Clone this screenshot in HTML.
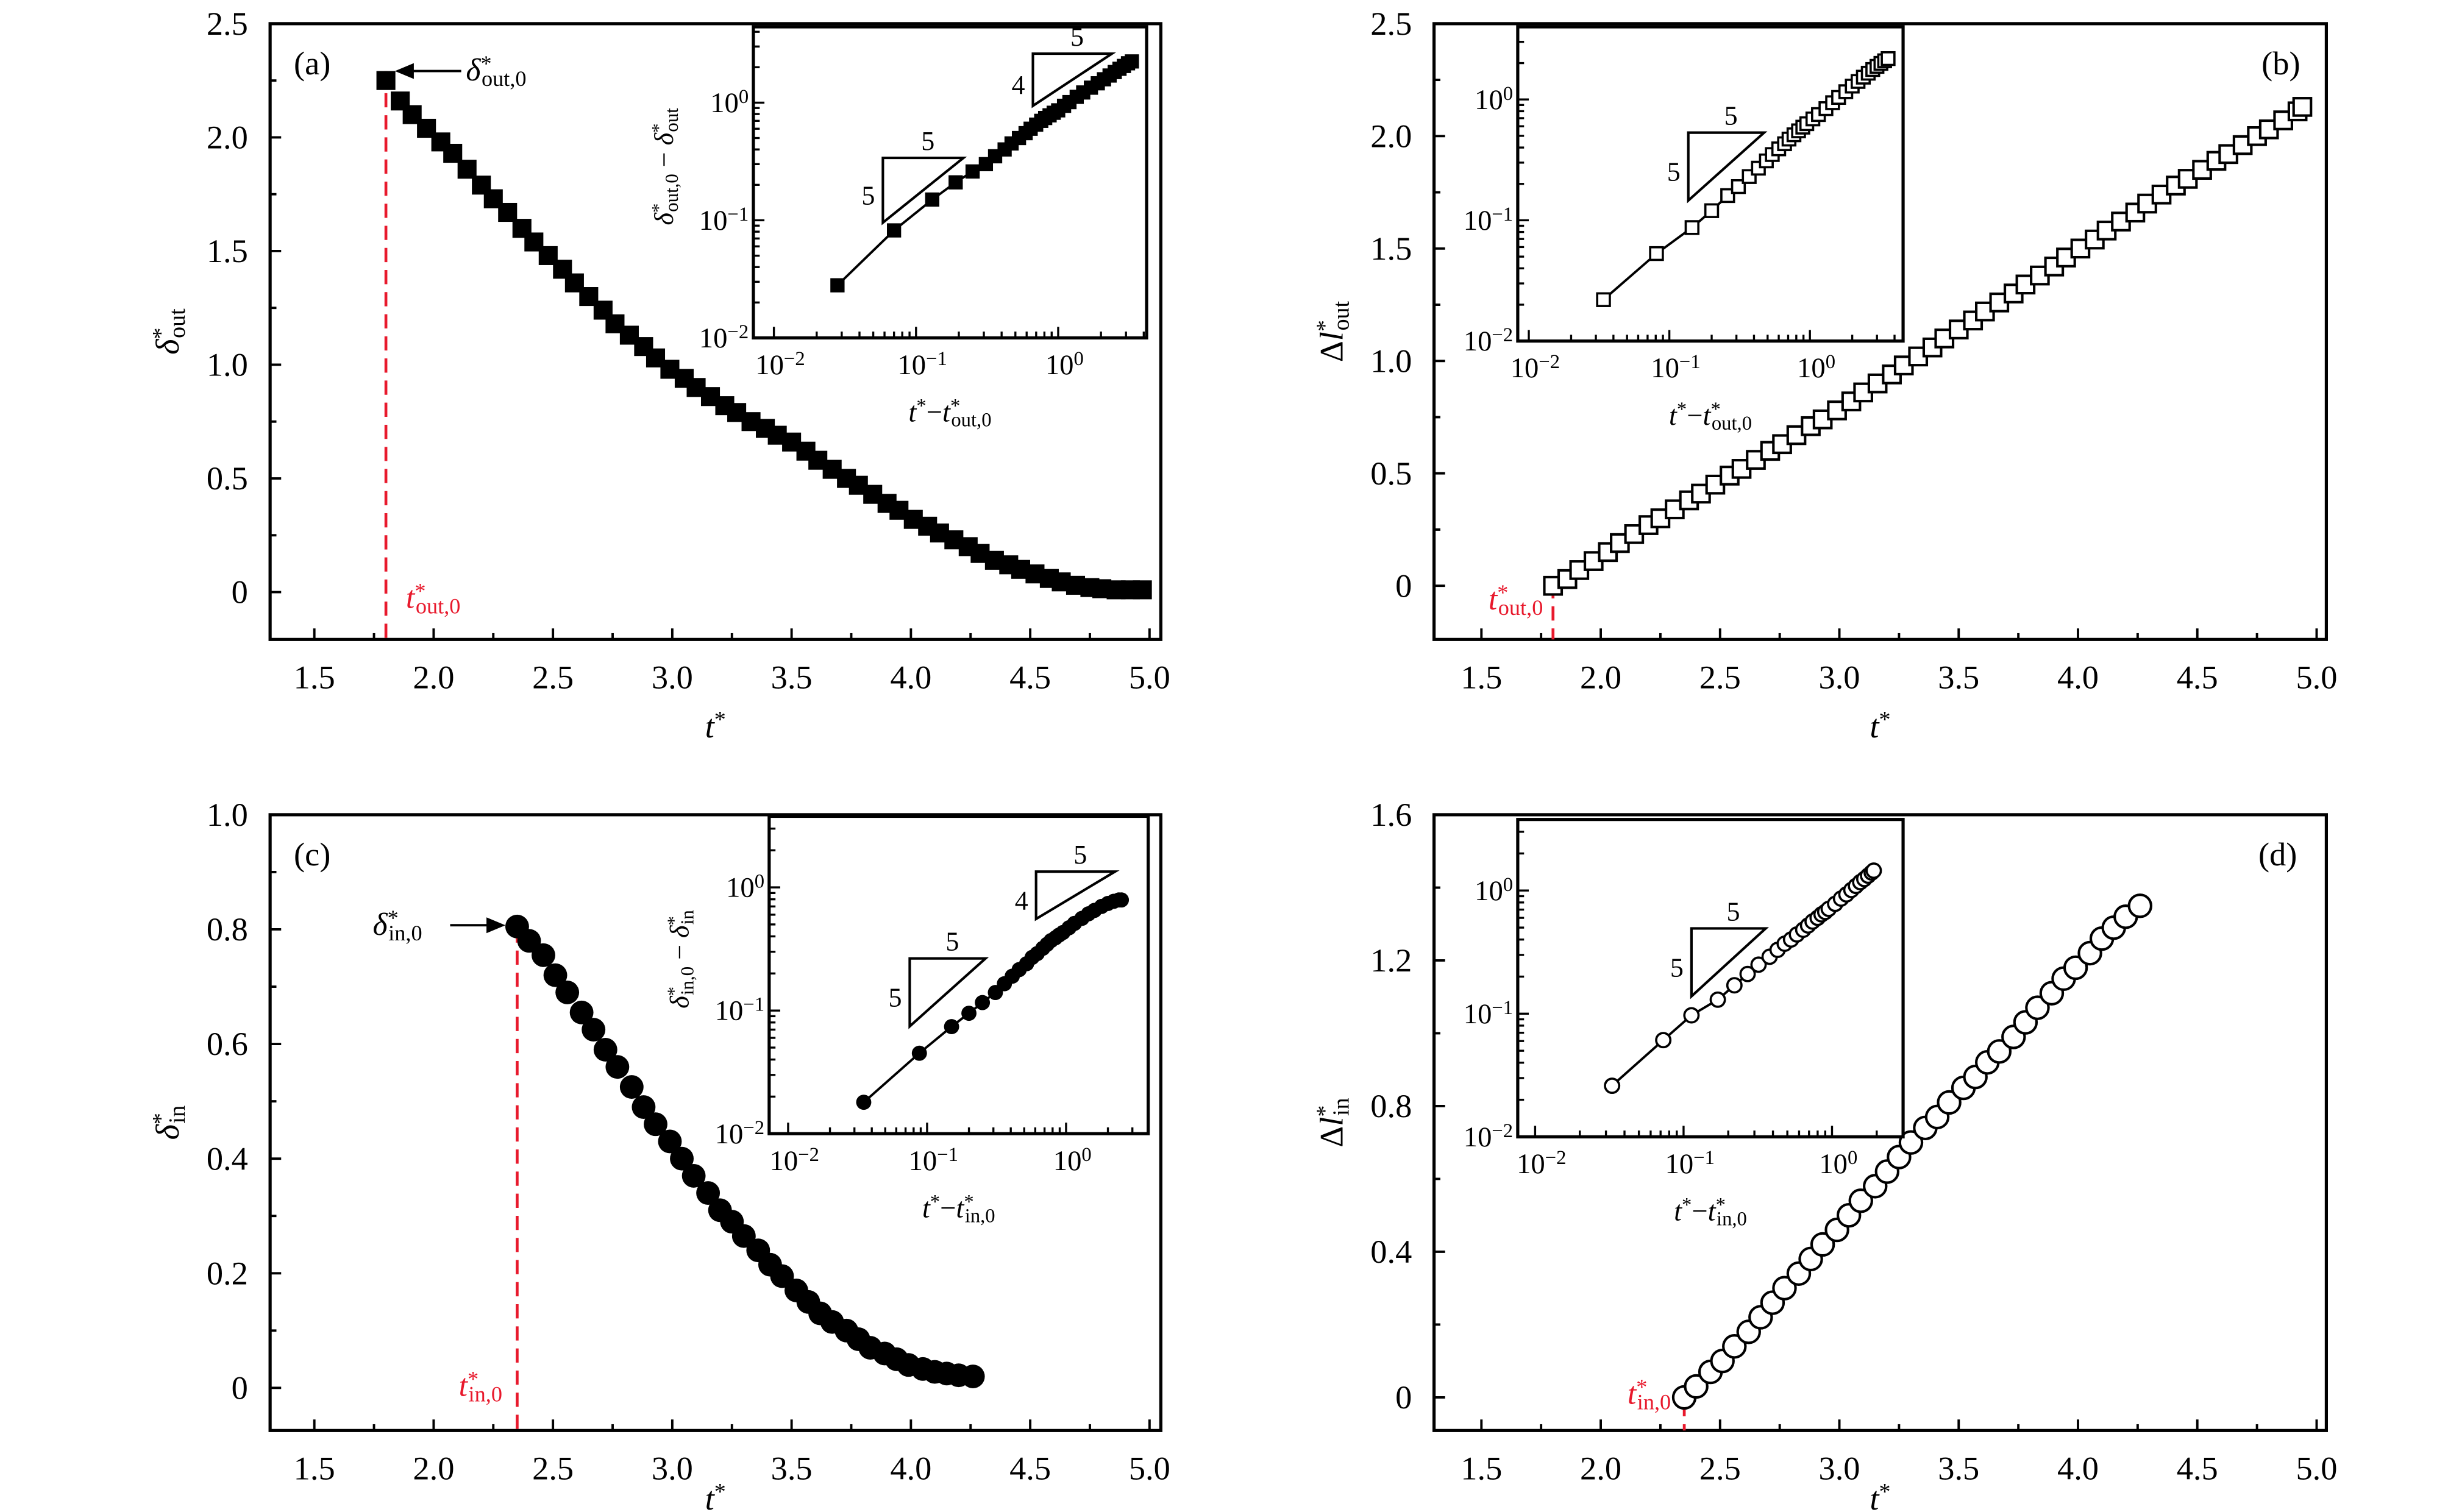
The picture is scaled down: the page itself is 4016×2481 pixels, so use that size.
<!DOCTYPE html>
<html><head><meta charset="utf-8"><style>
html,body{margin:0;padding:0;background:#fff;}
svg{display:block;}
text{font-family:"Liberation Serif",serif;fill:#000;}
</style></head><body>
<svg id="fig" xmlns="http://www.w3.org/2000/svg" width="4016" height="2481" viewBox="0 0 1550 957.6">
<rect x="0" y="0" width="1550" height="957.6" fill="#fff"/>
</svg>
<script>
// ---- Panel (a) data: delta*_out vs t* ----
const tA = [1.80,1.86,1.91,1.97,2.03,2.08,2.14,2.20,2.25,2.31,2.37,2.42,2.48,2.54,2.59,2.65,2.71,2.76,2.82,2.88,2.93,2.99,3.05,3.10,3.16,3.22,3.27,3.33,3.39,3.44,3.50,3.56,3.61,3.67,3.73,3.78,3.84,3.90,3.95,4.01,4.07,4.12,4.18,4.24,4.29,4.35,4.41,4.46,4.52,4.58,4.63,4.69,4.75,4.80,4.86,4.92,4.97];
const vA = [2.25,2.16,2.10,2.04,1.98,1.93,1.86,1.79,1.73,1.67,1.60,1.54,1.48,1.42,1.36,1.30,1.24,1.18,1.13,1.08,1.03,0.98,0.94,0.90,0.86,0.82,0.79,0.75,0.72,0.69,0.66,0.62,0.58,0.54,0.50,0.47,0.43,0.39,0.36,0.32,0.29,0.26,0.23,0.20,0.17,0.14,0.12,0.10,0.08,0.06,0.045,0.03,0.02,0.015,0.01,0.01,0.01];
// ---- Panel (b) data: Delta l*_out vs t* ----
const tB = [1.80,1.86,1.91,1.97,2.03,2.08,2.14,2.20,2.25,2.31,2.37,2.42,2.48,2.54,2.59,2.65,2.71,2.76,2.82,2.88,2.93,2.99,3.05,3.10,3.16,3.22,3.27,3.33,3.39,3.44,3.50,3.56,3.61,3.67,3.73,3.78,3.84,3.90,3.95,4.01,4.07,4.12,4.18,4.24,4.29,4.35,4.41,4.46,4.52,4.58,4.63,4.69,4.75,4.80,4.86,4.92,4.94];
const vB = [0.00,0.03,0.07,0.11,0.15,0.19,0.23,0.27,0.30,0.34,0.38,0.41,0.45,0.49,0.52,0.56,0.60,0.63,0.67,0.71,0.74,0.78,0.82,0.86,0.90,0.94,0.98,1.02,1.06,1.10,1.14,1.18,1.22,1.26,1.30,1.34,1.38,1.42,1.46,1.50,1.54,1.58,1.62,1.66,1.70,1.74,1.78,1.81,1.85,1.89,1.92,1.96,2.00,2.03,2.07,2.11,2.13];
// ---- Panel (c) data: delta*_in vs t* ----
const tC = [2.35,2.40,2.46,2.51,2.56,2.62,2.67,2.72,2.77,2.83,2.88,2.93,2.99,3.04,3.09,3.15,3.20,3.25,3.30,3.36,3.41,3.46,3.52,3.57,3.62,3.67,3.73,3.78,3.83,3.89,3.94,3.99,4.05,4.10,4.15,4.20,4.26];
const vC = [0.805,0.78,0.755,0.72,0.69,0.655,0.625,0.59,0.56,0.525,0.49,0.46,0.43,0.40,0.37,0.34,0.31,0.29,0.265,0.24,0.215,0.195,0.17,0.15,0.13,0.115,0.10,0.085,0.07,0.06,0.05,0.04,0.033,0.028,0.025,0.022,0.02];
// ---- Panel (d) data: Delta l*_in vs t* ----
const tD = [2.35,2.40,2.46,2.51,2.56,2.62,2.67,2.72,2.77,2.83,2.88,2.93,2.99,3.04,3.09,3.15,3.20,3.25,3.30,3.36,3.41,3.46,3.52,3.57,3.62,3.67,3.73,3.78,3.83,3.89,3.94,3.99,4.05,4.10,4.15,4.20,4.26];
const vD = [0.00,0.03,0.07,0.10,0.14,0.18,0.22,0.26,0.30,0.34,0.38,0.42,0.46,0.50,0.54,0.58,0.62,0.66,0.70,0.74,0.77,0.81,0.85,0.88,0.92,0.95,0.99,1.03,1.07,1.11,1.15,1.18,1.22,1.26,1.29,1.32,1.35];
// ---- Inset data ----
const iAx = [0.028,0.07,0.13,0.19,0.25,0.31,0.36,0.42,0.47,0.53,0.59,0.64,0.70,0.76,0.81,0.87,0.93,1.0,1.1,1.2,1.35,1.5,1.7,1.9,2.1,2.3,2.5,2.7,2.9,3.1,3.3];
const iAy = [0.028,0.082,0.15,0.21,0.26,0.30,0.35,0.40,0.45,0.50,0.55,0.60,0.65,0.70,0.74,0.78,0.82,0.86,0.94,1.01,1.12,1.22,1.34,1.46,1.58,1.70,1.82,1.94,2.05,2.16,2.24];
const iBx = [0.034,0.081,0.145,0.20,0.26,0.31,0.37,0.43,0.49,0.54,0.60,0.66,0.71,0.77,0.83,0.89,0.95,1.05,1.15,1.3,1.45,1.6,1.8,2.0,2.2,2.4,2.6,2.8,3.0,3.2,3.4,3.6];
const iBy = [0.022,0.053,0.087,0.12,0.16,0.19,0.23,0.27,0.31,0.35,0.39,0.43,0.47,0.51,0.55,0.59,0.63,0.69,0.75,0.84,0.94,1.04,1.16,1.29,1.41,1.53,1.65,1.77,1.88,1.99,2.09,2.18];
const iCx = [0.035,0.088,0.15,0.20,0.25,0.31,0.36,0.41,0.46,0.52,0.57,0.62,0.68,0.73,0.78,0.84,0.89,0.95,1.05,1.15,1.3,1.45,1.6,1.8,2.0,2.2,2.4,2.5];
const iCy = [0.018,0.045,0.074,0.095,0.116,0.14,0.165,0.19,0.215,0.24,0.27,0.29,0.32,0.345,0.37,0.39,0.41,0.43,0.47,0.51,0.56,0.61,0.65,0.70,0.74,0.77,0.79,0.79];
const iDx = [0.033,0.073,0.113,0.17,0.22,0.27,0.32,0.38,0.43,0.48,0.53,0.58,0.64,0.69,0.74,0.80,0.85,0.90,0.95,1.05,1.15,1.25,1.35,1.45,1.55,1.65,1.75,1.85,1.91];
const iDy = [0.026,0.061,0.097,0.13,0.17,0.21,0.25,0.29,0.33,0.37,0.40,0.44,0.48,0.52,0.56,0.60,0.64,0.67,0.71,0.78,0.86,0.93,1.01,1.09,1.17,1.24,1.32,1.40,1.45];
const xTicks = [1.5,2.0,2.5,3.0,3.5,4.0,4.5,5.0];
const xTickLabels = ["1.5","2.0","2.5","3.0","3.5","4.0","4.5","5.0"];
const yTicksAB = [0,0.5,1.0,1.5,2.0,2.5];
const yTickLabelsAB = ["0","0.5","1.0","1.5","2.0","2.5"];
const yTicksC = [0,0.2,0.4,0.6,0.8,1.0];
const yTickLabelsC = ["0","0.2","0.4","0.6","0.8","1.0"];
const yTicksD = [0,0.4,0.8,1.2,1.6];
const yTickLabelsD = ["0","0.4","0.8","1.2","1.6"];
const logDecades = [-2,-1,0];

const NS = "http://www.w3.org/2000/svg";
const svg = document.getElementById('fig');
function mk(tag, attrs, parent){
  const e = document.createElementNS(NS, tag);
  for (const k in attrs) e.setAttribute(k, attrs[k]);
  (parent||svg).appendChild(e);
  return e;
}
function rich(parent, x, y, size, parts, anchor, color, rot){
  const t = mk('text', {x:x, y:y, 'font-size':size, 'text-anchor':anchor||'start'}, parent);
  if (color) t.setAttribute('style','fill:'+color);
  if (rot) t.setAttribute('transform','rotate('+rot+' '+x+' '+y+')');
  parts.forEach(p=>{
    const s = document.createElementNS(NS,'tspan');
    s.textContent = p[0];
    if (p[1]==='i') s.setAttribute('font-style','italic');
    if (p[1]==='sup'){ s.setAttribute('baseline-shift','45%'); s.setAttribute('font-size', size*0.7); }
    if (p[1]==='sub'){ s.setAttribute('baseline-shift','-25%'); s.setAttribute('font-size', size*0.7); }
    if (p[1]==='subx'){ s.setAttribute('dx', -size*0.32); s.setAttribute('baseline-shift','-25%'); s.setAttribute('font-size', size*0.7); }
    t.appendChild(s);
  });
  return t;
}

function panel(cfg){
  const g = mk('g', {});
  
  
  const X = v => cfg.x0 + (v - cfg.xmin) * cfg.xs;
  const Y = v => cfg.y0 - v * cfg.ys;
  const fr = mk('rect', {x:cfg.L, y:cfg.T, width:cfg.R-cfg.L, height:cfg.B-cfg.T, fill:'none', stroke:'#000', 'stroke-width':2}, g);
  
  
  const xg = mk('g', {}, g);
  
  
  for (let v = 1.25; v <= 5.01; v += 0.25){
    const px = X(v); if (px < cfg.L || px > cfg.R) continue;
    const major = Math.abs(v*2 - Math.round(v*2)) < 1e-6;
    mk('line', {x1:px, x2:px, y1:cfg.B, y2:cfg.B-(major?7:4), stroke:'#000','stroke-width':1.5}, xg);
  }
  xTicks.forEach((v,i)=>{
    const tx = mk('text', {x:X(v), y:cfg.B+31, 'font-size':21, 'text-anchor':'middle'}, xg);
    tx.textContent = xTickLabels[i];
    
    
  });
  const yg = mk('g', {}, g);
  
  
  const step = cfg.yt[1]-cfg.yt[0];
  for (let v = 0; v <= cfg.yt[cfg.yt.length-1]+1e-6; v += step/2){
    const py = Y(v);
    const major = Math.abs(v/step - Math.round(v/step)) < 1e-6;
    mk('line', {x1:cfg.L, x2:cfg.L+(major?7:4), y1:py, y2:py, stroke:'#000','stroke-width':1.5}, yg);
  }
  cfg.yt.forEach((v,i)=>{
    const ty = mk('text', {x:cfg.L-14, y:Y(v)+7, 'font-size':21, 'text-anchor':'end'}, yg);
    ty.textContent = cfg.ytl[i];
    
    
  });
  const xl = rich(g, (cfg.L+cfg.R)/2, cfg.B+cfg.xlOff, 21, [['t','i'],['*','sup']], 'middle');
  
  
  const yl = rich(g, cfg.L-58, (cfg.T+cfg.B)/2, 21, cfg.ylab, 'middle', null, -90);
  
  
  const pl = mk('text', {x:cfg.letterX, y:cfg.T+32, 'font-size':21}, g);
  pl.textContent = cfg.letter;
  
  
  const rl = mk('line', {x1:X(cfg.t0), x2:X(cfg.t0), y1:cfg.redTop, y2:cfg.B, stroke:'#e8192c','stroke-width':1.8,'stroke-dasharray':'9,5'}, g);
  
  
  const rt = rich(g, cfg.redTX, cfg.redTY, 20, cfg.redLab, cfg.redAnchor, '#e8192c');
  
  
  const sg = mk('g', {}, g);
  
  
  cfg.t.forEach((tv,i)=>{
    const px = X(tv), py = Y(cfg.v[i]);
    let m;
    if (cfg.marker==='fsq') m = mk('rect', {x:px-6, y:py-6, width:12, height:12, fill:'#000'}, sg);
    else if (cfg.marker==='osq') m = mk('rect', {x:px-5.5, y:py-5.5, width:11, height:11, fill:'#fff', stroke:'#000','stroke-width':1.6}, sg);
    else if (cfg.marker==='fc') m = mk('circle', {cx:px, cy:py, r:7.5, fill:'#000'}, sg);
    else m = mk('circle', {cx:px, cy:py, r:7, fill:'#fff', stroke:'#000','stroke-width':1.6}, sg);
    
    
  });
  return g;
}

function inset(cfg){
  const g = mk('g', {});
  
  
  const X = v => cfg.px0 + cfg.pxs * Math.log10(v);
  const Y = v => cfg.py0 - cfg.pys * Math.log10(v);
  const bg = mk('rect', {x:cfg.L, y:cfg.T, width:cfg.R-cfg.L, height:cfg.B-cfg.T, fill:'#fff', stroke:'#000','stroke-width':2}, g);
  
  
  for (let d = -2; d <= 1; d++){
    for (let k = 1; k <= 9; k++){
      const px = X(k*Math.pow(10,d));
      if (px < cfg.L+1 || px > cfg.R-1) continue;
      mk('line', {x1:px, x2:px, y1:cfg.B, y2:cfg.B-(k===1?7:4), stroke:'#000','stroke-width':1.3}, g);
    }
  }
  for (let d = -2; d <= 1; d++){
    for (let k = 1; k <= 9; k++){
      const py = Y(k*Math.pow(10,d));
      if (py < cfg.T+1 || py > cfg.B) continue;
      mk('line', {x1:cfg.L, x2:cfg.L+(k===1?7:4), y1:py, y2:py, stroke:'#000','stroke-width':1.3}, g);
    }
  }
  logDecades.forEach(d=>{
    const tx = rich(g, X(Math.pow(10,d))+4, cfg.B+23, 18, [['10','n'],[d===0?'0':'\u2212'+(-d),'sup']], 'middle');
    
    
    const ty = rich(g, cfg.L-3, Y(Math.pow(10,d))+6, 18, [['10','n'],[d===0?'0':'\u2212'+(-d),'sup']], 'end');
    
    
  });
  const xl = rich(g, (cfg.L+cfg.R)/2, cfg.B+53, 18, [['t','i'],['*','sup'],['\u2212','n'],['t','i'],['*','sup'],[cfg.sub,'subx']], 'middle');
  
  
  if (cfg.ylab){
    const yl = rich(g, cfg.L-51, (cfg.T+cfg.B)/2 - 10, 17, cfg.ylab, 'middle', null, -90);
    
    
  }
  cfg.tri.forEach(tr=>{
    const p = mk('path', {d:'M'+tr[0]+' '+tr[1]+' L'+tr[0]+' '+tr[2]+' L'+tr[3]+' '+tr[1]+' Z', fill:'none', stroke:'#000','stroke-width':1.6}, g);
    
    
    const a = mk('text', {x:(tr[0]+tr[3])/2+3, y:tr[1]-5, 'font-size':17, 'text-anchor':'middle'}, g);
    a.textContent = tr[5];
    
    
    const b = mk('text', {x:tr[0]-5, y:(tr[1]+tr[2])/2+9, 'font-size':17, 'text-anchor':'end'}, g);
    b.textContent = tr[4];
    
    
  });
  const pts = cfg.x.map((v,i)=>X(v).toFixed(1)+','+Y(cfg.y[i]).toFixed(1)).join(' ');
  const pl = mk('polyline', {points:pts, fill:'none', stroke:'#000','stroke-width':1.5}, g);
  
  
  cfg.x.forEach((v,i)=>{
    const px = X(v), py = Y(cfg.y[i]);
    let m;
    if (cfg.marker==='fsq') m = mk('rect', {x:px-4.5, y:py-4.5, width:9, height:9, fill:'#000'}, g);
    else if (cfg.marker==='osq') m = mk('rect', {x:px-4, y:py-4, width:8, height:8, fill:'#fff', stroke:'#000','stroke-width':1.4}, g);
    else if (cfg.marker==='fc') m = mk('circle', {cx:px, cy:py, r:4.8, fill:'#000'}, g);
    else m = mk('circle', {cx:px, cy:py, r:4.5, fill:'#fff', stroke:'#000','stroke-width':1.4}, g);
    
    
  });
}

// Panel a
panel({name:'panel-a', L:171, R:735, T:15, B:405, x0:199, xmin:1.5, xs:151.1, y0:375, ys:144, xlOff:62,
  yt:yTicksAB, ytl:yTickLabelsAB, ylab:[['\u03B4','i'],['*','sup'],['out','subx']], letter:'(a)', letterX:186,
  t:tA, v:vA, marker:'fsq', t0:1.8, redTop:45, redTX:257, redTY:385, redAnchor:'start',
  redLab:[['t','i'],['*','sup'],['out,0','subx']]});
inset({name:'inset-a', L:477, R:726, T:17, B:214, px0:670, pxs:90, py0:65, pys:74.5, x:iAx, y:iAy, marker:'fsq', sub:'out,0',
  ylab:[['\u03B4','i'],['*','sup'],['out,0','subx'],[' \u2212 ','n'],['\u03B4','i'],['*','sup'],['out','subx']],
  tri:[[559,100,141,610,'5','5'],[654,34,67,704,'4','5']]});
(function(){
  const g = mk('g', {});
  
  
  mk('line',{x1:292,y1:45,x2:258,y2:45,stroke:'#000','stroke-width':1.5},g);
  mk('path',{d:'M250 45 L262 40 L262 50 Z',fill:'#000'},g);
  rich(g,295,51,20,[['\u03B4','i'],['*','sup'],['out,0','subx']],'start');
})();

// Panel b
panel({name:'panel-b', L:908, R:1473, T:15, B:405, x0:938, xmin:1.5, xs:151.1, y0:371, ys:142.4, xlOff:62,
  yt:yTicksAB, ytl:yTickLabelsAB, ylab:[['\u0394','n'],['l','i'],['*','sup'],['out','subx']], letter:'(b)', letterX:1432,
  t:tB, v:vB, marker:'osq', t0:1.8, redTop:370, redTX:977, redTY:386, redAnchor:'end',
  redLab:[['t','i'],['*','sup'],['out,0','subx']]});
inset({name:'inset-b', L:961, R:1205, T:17, B:216, px0:1146, pxs:89, py0:63, pys:76.5, x:iBx, y:iBy, marker:'osq', sub:'out,0',
  ylab:null, tri:[[1069,84,127,1117,'5','5']]});

// Panel c
panel({name:'panel-c', L:171, R:735, T:516, B:906, x0:199, xmin:1.5, xs:151.1, y0:879, ys:363, xlOff:50,
  yt:yTicksC, ytl:yTickLabelsC, ylab:[['\u03B4','i'],['*','sup'],['in','subx']], letter:'(c)', letterX:186,
  t:tC, v:vC, marker:'fc', t0:2.35, redTop:588, redTX:318, redTY:884, redAnchor:'end',
  redLab:[['t','i'],['*','sup'],['in,0','subx']]});
inset({name:'inset-c', L:487, R:727, T:517, B:718, px0:675, pxs:88, py0:562, pys:78, x:iCx, y:iCy, marker:'fc', sub:'in,0',
  ylab:[['\u03B4','i'],['*','sup'],['in,0','subx'],[' \u2212 ','n'],['\u03B4','i'],['*','sup'],['in','subx']],
  tri:[[576,607,650,624,'5','5'],[656,552,582,706,'4','5']]});
(function(){
  const g = mk('g', {});
  
  
  mk('line',{x1:285,y1:586,x2:312,y2:586,stroke:'#000','stroke-width':1.5},g);
  mk('path',{d:'M320 586 L308 581 L308 591 Z',fill:'#000'},g);
  rich(g,236,592,20,[['\u03B4','i'],['*','sup'],['in,0','subx']],'start');
})();

// Panel d
panel({name:'panel-d', L:908, R:1473, T:516, B:906, x0:938, xmin:1.5, xs:151.1, y0:885, ys:230.6, xlOff:50,
  yt:yTicksD, ytl:yTickLabelsD, ylab:[['\u0394','n'],['l','i'],['*','sup'],['in','subx']], letter:'(d)', letterX:1430,
  t:tD, v:vD, marker:'oc', t0:2.35, redTop:888, redTX:1058, redTY:889, redAnchor:'end',
  redLab:[['t','i'],['*','sup'],['in,0','subx']]});
inset({name:'inset-d', L:961, R:1205, T:519, B:720, px0:1160, pxs:94, py0:564, pys:78, x:iDx, y:iDy, marker:'oc', sub:'in,0',
  ylab:null, tri:[[1071,588,631,1118,'5','5']]});
</script>
</body></html>
